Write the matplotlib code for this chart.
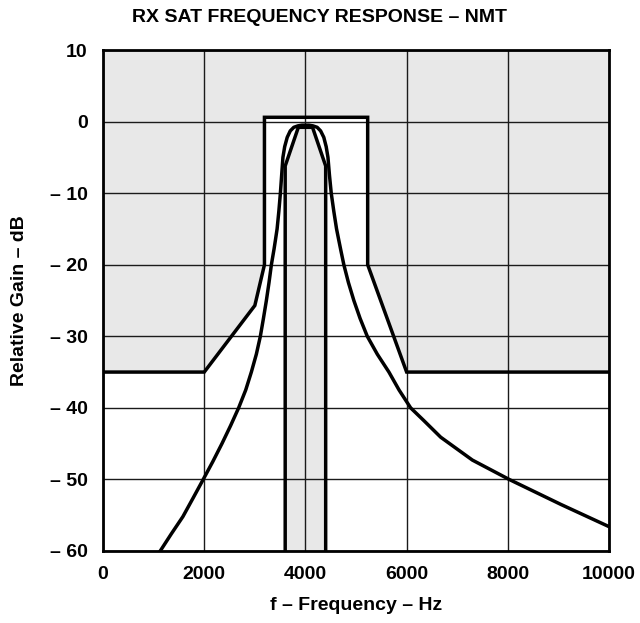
import matplotlib
matplotlib.use("Agg")
import matplotlib.pyplot as plt

plt.rcParams['font.family'] = ['Liberation Sans', 'DejaVu Sans']
plt.rcParams['font.weight'] = 'bold'

# Upper (maximum) mask
upper_f = [0, 2000, 3000, 3190, 3190, 5230, 5230, 6000, 10000]
upper_db = [-35, -35, -25.7, -20, 0.6, 0.6, -20, -35, -35]

# Lower (minimum) mask
lower_f = [3600, 3600, 3860, 4140, 4400, 4400]
lower_db = [-60, -6.2, -0.8, -0.8, -6.2, -60]

# Measured filter response
resp_f = [1130, 1350, 1578, 1780, 1980, 2170, 2350, 2520, 2680, 2820, 2931, 3030,
          3109, 3170, 3228, 3280, 3327, 3380, 3406, 3440, 3475, 3505, 3530, 3555,
          3590, 3640, 3700, 3770, 3850, 3930, 4000, 4070, 4150, 4232, 4300, 4363,
          4410, 4445, 4475, 4510, 4560, 4615, 4660, 4700, 4759, 4850, 4957, 5080,
          5222, 5420, 5650, 5850, 6079, 6343, 6673, 7300, 8026, 9050, 10000]
resp_db = [-60, -57.6, -55.2, -52.6, -50, -47.5, -45, -42.5, -40, -37.5, -35, -32.5,
           -30, -27.5, -25, -22.5, -20, -17.8, -16.6, -15, -12.5, -10, -7.5, -5,
           -3.5, -2.2, -1.3, -0.8, -0.6, -0.5, -0.5, -0.5, -0.6, -0.8, -1.3, -2.2,
           -3.5, -5, -7.5, -10, -12.5, -15, -16.6, -18, -20, -22.5, -25, -27.5,
           -30, -32.5, -35, -37.5, -40, -41.8, -44.1, -47.3, -50, -53.5, -56.6]

x_ticks = [0, 2000, 4000, 6000, 8000, 10000]
y_ticks = [10, 0, -10, -20, -30, -40, -50, -60]
y_labels = ['10', '0', '– 10', '– 20', '– 30', '– 40', '– 50', '– 60']

fig = plt.figure(figsize=(6.4, 6.23), dpi=100)
ax = fig.add_axes([0.161, 0.1156, 0.7906, 0.8041])

gray = '#e8e8e8'
ax.fill_between(upper_f, upper_db, 10, color=gray, lw=0, zorder=0)
ax.fill_between(lower_f, -60, lower_db, color=gray, lw=0, zorder=0)

ax.set_xlim(0, 10000)
ax.set_ylim(-60, 10)
ax.set_xticks(x_ticks)
ax.set_xticklabels([str(t) for t in x_ticks])
ax.set_yticks(y_ticks)
ax.set_yticklabels(y_labels)
ax.grid(True, color='#1a1a1a', lw=1.0, zorder=1)
ax.set_axisbelow(False)
ax.tick_params(length=0, labelsize=14, pad=11)
for t in ax.get_xticklabels() + ax.get_yticklabels():
    t.set_fontweight('bold')

ax.plot(upper_f, upper_db, color='black', lw=2.5, zorder=3, solid_joinstyle='miter')
ax.plot(lower_f, lower_db, color='black', lw=2.5, zorder=3, solid_joinstyle='miter')
ax.plot(resp_f, resp_db, color='black', lw=2.5, zorder=3, solid_joinstyle='round')

for s in ax.spines.values():
    s.set_linewidth(2)
    s.set_zorder(4)

fig.text(0.5, 1 - 17.5 / 623, 'RX SAT FREQUENCY RESPONSE – NMT', fontsize=14,
         fontweight='bold', ha='center', va='center')
ax.set_xlabel('f – Frequency – Hz', fontsize=14, fontweight='bold', labelpad=10)
ax.set_ylabel('Relative Gain – dB', fontsize=14, fontweight='bold', labelpad=16)

fig.savefig('out.png', dpi=100)
